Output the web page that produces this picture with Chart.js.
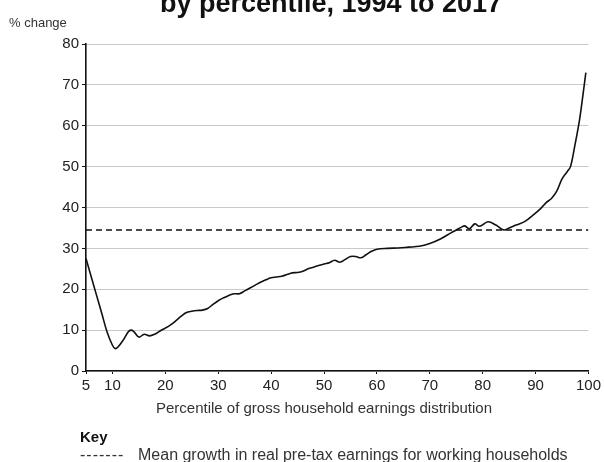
<!DOCTYPE html>
<html>
<head>
<meta charset="utf-8">
<script src="https://cdn.jsdelivr.net/npm/chart.js@4"></script>
<style>
  html, body { margin: 0; padding: 0; background: #fff; }
  canvas { display: block; }
</style>
</head>
<body>
<canvas id="chart" width="604" height="462"></canvas>
<script>
// percentile of gross household earnings distribution
var percentiles = [5, 6, 7, 8, 9, 10, 10.5, 11, 12, 13, 13.5, 14, 15, 16, 17, 18, 19, 20,
    21, 22, 23, 24, 25, 26, 27, 28, 29, 30, 31, 32, 33, 34, 35, 36, 37, 38, 39, 40,
    41, 42, 43, 44, 45, 46, 47, 48, 49, 50, 51, 52, 53, 54, 55, 56, 57, 58, 59, 60,
    62, 64, 66, 68, 70, 72, 74, 75, 76, 76.6, 77.5, 78.5, 79.4, 81, 82.5, 84, 85,
    86.3, 88, 89.4, 91, 92, 93, 94, 95, 96, 96.6, 97.4, 98.3, 98.9, 99.5];
// % change in real earnings
var growth = [27.5, 23, 18.5, 14, 9.5, 6.3, 5.5, 5.8, 7.5, 9.6, 10, 9.7, 8.3, 9.0, 8.6, 9.0, 9.8, 10.5,
    11.3, 12.3, 13.4, 14.3, 14.6, 14.8, 14.9, 15.3, 16.3, 17.2, 17.9, 18.5, 18.9, 18.9, 19.6, 20.3, 21.0, 21.7, 22.3, 22.8,
    23.0, 23.2, 23.6, 24.0, 24.1, 24.4, 25.0, 25.4, 25.8, 26.2, 26.5, 27.1, 26.6, 27.3, 28.0, 28.0, 27.7, 28.5, 29.3, 29.8,
    30.0, 30.1, 30.3, 30.5, 31.2, 32.3, 33.8, 34.5, 35.2, 35.5, 34.8, 36.0, 35.4, 36.5, 35.7, 34.5, 35.0,
    35.7, 36.6, 38.0, 39.8, 41.2, 42.2, 44, 47, 48.8, 50, 55, 61.4, 67, 73];
var meanRange = [5, 100];
var meanGrowth = 34.5;
var xTicks = [5, 10, 20, 30, 40, 50, 60, 70, 80, 90, 100];
var yTicks = [0, 10, 20, 30, 40, 50, 60, 70, 80];

var FONT = '"Liberation Sans", Arial, sans-serif';

var textPlugin = {
    id: 'texts',
    afterDraw: function(chart) {
        var ctx = chart.ctx;
        ctx.save();
        ctx.fillStyle = '#111';
        ctx.textBaseline = 'alphabetic';

        // title, cut off at the top edge as in the source
        ctx.font = 'bold 27px ' + FONT;
        ctx.textAlign = 'center';
        ctx.fillText('by percentile, 1994 to 2017', 331, 12);

        ctx.fillStyle = '#333';
        ctx.font = '13px ' + FONT;
        ctx.textAlign = 'left';
        ctx.fillText('% change', 9, 27);

        ctx.font = '15px ' + FONT;
        ctx.textAlign = 'center';
        ctx.fillText('Percentile of gross household earnings distribution', 324, 413);

        ctx.textAlign = 'left';
        ctx.font = 'bold 15px ' + FONT;
        ctx.fillStyle = '#111';
        ctx.fillText('Key', 80, 442);

        ctx.font = '16px ' + FONT;
        ctx.fillStyle = '#333';
        ctx.letterSpacing = '1px';
        ctx.fillText('-------', 80, 460);
        ctx.letterSpacing = '0px';
        ctx.fillText('Mean growth in real pre-tax earnings for working households', 138, 460);
        ctx.restore();
    }
};

new Chart(document.getElementById('chart'), {
    type: 'line',
    data: {
        datasets: [{
            data: percentiles.map(function(p, i) { return {x: p, y: growth[i]}; }),
            borderColor: '#111',
            borderWidth: 1.6,
            pointRadius: 0,
            tension: 0.35,
            fill: false
        }, {
            data: meanRange.map(function(p) { return {x: p, y: meanGrowth}; }),
            borderColor: '#111',
            borderWidth: 1.6,
            borderDash: [6, 4],
            pointRadius: 0,
            fill: false
        }]
    },
    options: {
        responsive: false,
        animation: false,
        layout: { padding: { left: 0, right: 15, top: 44, bottom: 0 } },
        plugins: { legend: { display: false }, tooltip: { enabled: false } },
        scales: {
            x: {
                type: 'linear',
                min: 5,
                max: 100,
                afterBuildTicks: function(scale) {
                    scale.ticks = xTicks.map(function(v) { return {value: v}; });
                },
                afterFit: function(scale) { scale.height = 91; },
                grid: { drawOnChartArea: false, tickLength: 3, tickColor: '#111' },
                border: { display: true, color: '#111', width: 1.6 },
                ticks: { color: '#222', font: { size: 15, family: FONT }, padding: 3, maxRotation: 0, autoSkip: false }
            },
            y: {
                min: 0,
                max: 80,
                afterBuildTicks: function(scale) {
                    scale.ticks = yTicks.map(function(v) { return {value: v}; });
                },
                afterFit: function(scale) { scale.width = 86; },
                grid: { color: '#c9c9c9', lineWidth: 1, tickLength: 4, tickColor: '#111' },
                border: { display: true, color: '#111', width: 1.6 },
                ticks: { color: '#222', font: { size: 15, family: FONT }, padding: 3 }
            }
        }
    },
    plugins: [textPlugin]
});
</script>
</body>
</html>
